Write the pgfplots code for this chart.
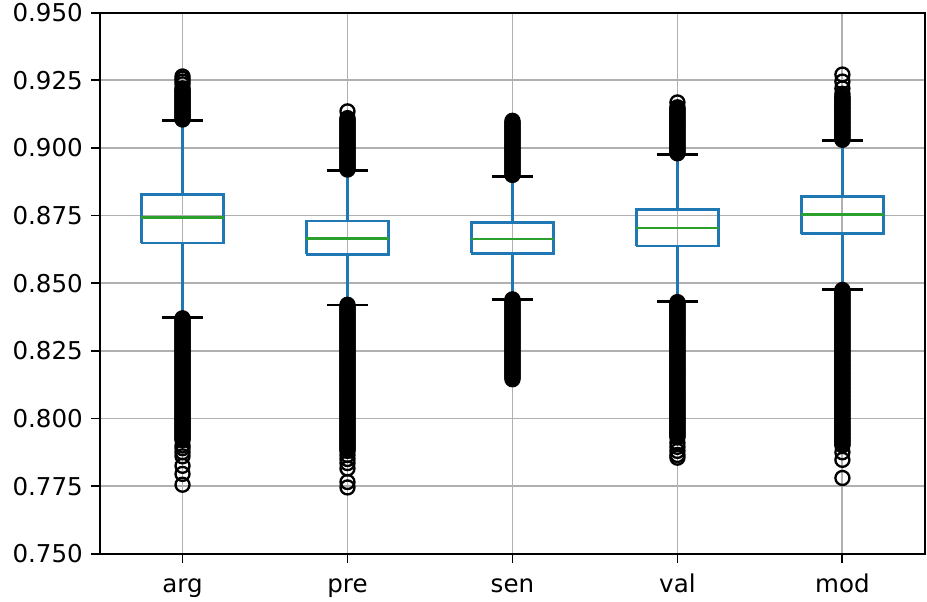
\documentclass[border=0pt]{standalone}
\usepackage{pgfplots}
\pgfplotsset{compat=1.18}
\usepackage{fontspec}
\setmainfont{DejaVu Sans}
\definecolor{mblue}{HTML}{1F77B4}
\definecolor{mgreen}{HTML}{2CA02C}
\definecolor{gridc}{HTML}{B0B0B0}
\begin{document}
\begin{tikzpicture}
\begin{axis}[
  scale only axis, width=352.9pt, height=231.5pt,
  xmin=0.5, xmax=5.5, ymin=0.75, ymax=0.95,
  xtick={1,2,3,4,5}, xticklabels={arg,pre,sen,val,mod},
  ytick={0.75,0.775,0.8,0.825,0.85,0.875,0.9,0.925,0.95},
  yticklabel style={/pgf/number format/.cd,fixed,fixed zerofill,precision=3},
  xticklabel style={text height=7.8pt, text depth=2.2pt, yshift=-1.2pt},
  /pgf/number format/assume math mode=true,
  ticklabel style={font=\fontsize{10.5}{12.6}\selectfont},
  tick align=outside, major tick length=3.85pt,
  tick style={black, line width=0.8pt},
  axis line style={line width=0.8pt},
  xtick pos=bottom, ytick pos=left,
  grid=major, grid style={line width=0.8pt, gridc},
  fliers/.style={only marks, mark=o, mark size=3pt, mark options={draw=black, line width=1pt}},
  wh/.style={mblue, line width=1.15pt, forget plot},
  cap/.style={black, line width=1.15pt, forget plot},
  bx/.style={mblue, line width=1.15pt, forget plot},
  md/.style={mgreen, line width=1.15pt, forget plot},
]
% arg
\addplot[wh] coordinates {(1,0.8828) (1,0.9101)};
\addplot[wh] coordinates {(1,0.8648) (1,0.8372)};
\addplot[cap] coordinates {(0.875,0.9101) (1.125,0.9101)};
\addplot[cap] coordinates {(0.875,0.8372) (1.125,0.8372)};
\addplot[bx] coordinates {(0.75,0.8648) (1.25,0.8648) (1.25,0.8828) (0.75,0.8828) (0.75,0.8648)};
\addplot[md] coordinates {(0.75,0.8742) (1.25,0.8742)};
% pre
\addplot[wh] coordinates {(2,0.8730) (2,0.8916)};
\addplot[wh] coordinates {(2,0.8606) (2,0.8419)};
\addplot[cap] coordinates {(1.875,0.8916) (2.125,0.8916)};
\addplot[cap] coordinates {(1.875,0.8419) (2.125,0.8419)};
\addplot[bx] coordinates {(1.75,0.8606) (2.25,0.8606) (2.25,0.8730) (1.75,0.8730) (1.75,0.8606)};
\addplot[md] coordinates {(1.75,0.8665) (2.25,0.8665)};
% sen
\addplot[wh] coordinates {(3,0.8723) (3,0.8895)};
\addplot[wh] coordinates {(3,0.8610) (3,0.8440)};
\addplot[cap] coordinates {(2.875,0.8895) (3.125,0.8895)};
\addplot[cap] coordinates {(2.875,0.8440) (3.125,0.8440)};
\addplot[bx] coordinates {(2.75,0.8610) (3.25,0.8610) (3.25,0.8723) (2.75,0.8723) (2.75,0.8610)};
\addplot[md] coordinates {(2.75,0.8663) (3.25,0.8663)};
% val
\addplot[wh] coordinates {(4,0.8773) (4,0.8976)};
\addplot[wh] coordinates {(4,0.8637) (4,0.8431)};
\addplot[cap] coordinates {(3.875,0.8976) (4.125,0.8976)};
\addplot[cap] coordinates {(3.875,0.8431) (4.125,0.8431)};
\addplot[bx] coordinates {(3.75,0.8637) (4.25,0.8637) (4.25,0.8773) (3.75,0.8773) (3.75,0.8637)};
\addplot[md] coordinates {(3.75,0.8704) (4.25,0.8704)};
% mod
\addplot[wh] coordinates {(5,0.8821) (5,0.9028)};
\addplot[wh] coordinates {(5,0.8683) (5,0.8477)};
\addplot[cap] coordinates {(4.875,0.9028) (5.125,0.9028)};
\addplot[cap] coordinates {(4.875,0.8477) (5.125,0.8477)};
\addplot[bx] coordinates {(4.75,0.8683) (5.25,0.8683) (5.25,0.8821) (4.75,0.8821) (4.75,0.8683)};
\addplot[md] coordinates {(4.75,0.8753) (5.25,0.8753)};
% fliers arg
\addplot[fliers] table[x expr=1, y index=0, header=false, row sep=\\] {
0.9105\\0.911\\0.9115\\0.912\\0.9125\\0.913\\0.9135\\0.914\\0.9145\\0.915\\0.9155\\0.916\\0.9165\\0.917\\0.9175\\0.918\\0.9185\\0.919\\0.9195\\0.92\\0.9205\\0.921\\0.9215\\0.922\\0.9235\\0.9245\\0.9255\\0.9264\\
0.837\\0.8365\\0.836\\0.8355\\0.835\\0.8345\\0.834\\0.8335\\0.833\\0.8325\\0.832\\0.8315\\0.831\\0.8305\\0.83\\0.8295\\0.829\\0.8285\\0.828\\0.8275\\0.827\\0.8265\\0.826\\0.8255\\0.825\\0.8245\\0.824\\0.8235\\0.823\\0.8225\\0.822\\0.8215\\0.821\\0.8205\\0.82\\
0.8195\\0.819\\0.8185\\0.818\\0.8175\\0.817\\0.8165\\0.816\\0.8155\\0.815\\0.8145\\0.814\\0.8135\\0.813\\0.8125\\0.812\\0.8115\\0.811\\0.8105\\0.81\\0.8095\\0.809\\0.8085\\0.808\\0.8075\\0.807\\0.8065\\0.806\\0.8055\\0.805\\0.8045\\0.804\\0.8035\\0.803\\0.8025\\0.802\\0.8015\\0.801\\0.8005\\0.8\\
0.7995\\0.799\\0.7985\\0.798\\0.7975\\0.797\\0.7965\\0.796\\0.7955\\0.795\\0.7945\\0.794\\0.7935\\0.793\\0.7925\\0.792\\0.79\\0.789\\0.7875\\0.786\\0.7825\\0.7795\\0.7755\\
};
% fliers pre
\addplot[fliers] table[x expr=2, y index=0, header=false, row sep=\\] {
0.892\\0.8925\\0.893\\0.8935\\0.894\\0.8945\\0.895\\0.8955\\0.896\\0.8965\\0.897\\0.8975\\0.898\\0.8985\\0.899\\0.8995\\0.9\\0.9005\\0.901\\0.9015\\0.902\\0.9025\\0.903\\0.9035\\0.904\\0.9045\\0.905\\0.9055\\0.906\\0.9065\\0.907\\0.9075\\0.908\\0.9085\\0.909\\0.9095\\0.91\\0.9105\\0.911\\0.9135\\
0.842\\0.8415\\0.841\\0.8405\\0.84\\0.8395\\0.839\\0.8385\\0.838\\0.8375\\
0.837\\0.8365\\0.836\\0.8355\\0.835\\0.8345\\0.834\\0.8335\\0.833\\0.8325\\0.832\\0.8315\\0.831\\0.8305\\0.83\\0.8295\\0.829\\0.8285\\0.828\\0.8275\\0.827\\0.8265\\0.826\\0.8255\\0.825\\0.8245\\0.824\\0.8235\\0.823\\0.8225\\0.822\\0.8215\\0.821\\0.8205\\0.82\\
0.8195\\0.819\\0.8185\\0.818\\0.8175\\0.817\\0.8165\\0.816\\0.8155\\0.815\\0.8145\\0.814\\0.8135\\0.813\\0.8125\\0.812\\0.8115\\0.811\\0.8105\\0.81\\0.8095\\0.809\\0.8085\\0.808\\0.8075\\0.807\\0.8065\\0.806\\0.8055\\0.805\\0.8045\\0.804\\0.8035\\0.803\\0.8025\\0.802\\0.8015\\0.801\\0.8005\\0.8\\
0.7995\\0.799\\0.7985\\0.798\\0.7975\\0.797\\0.7965\\0.796\\0.7955\\0.795\\0.7945\\0.794\\0.7935\\0.793\\0.7925\\0.792\\0.7915\\0.791\\0.7905\\0.79\\0.7895\\0.789\\0.7885\\0.788\\0.7865\\0.785\\0.7835\\0.7815\\0.7765\\0.7745\\
};
% fliers sen
\addplot[fliers] table[x expr=3, y index=0, header=false, row sep=\\] {
0.89\\0.8905\\0.891\\0.8915\\0.892\\0.8925\\0.893\\0.8935\\0.894\\0.8945\\0.895\\0.8955\\0.896\\0.8965\\0.897\\0.8975\\0.898\\0.8985\\0.899\\0.8995\\0.9\\0.9005\\0.901\\0.9015\\0.902\\0.9025\\0.903\\0.9035\\0.904\\0.9045\\0.905\\0.9055\\0.906\\0.9065\\0.907\\0.9075\\0.908\\0.9085\\0.909\\0.9095\\0.91\\
0.844\\0.8435\\0.843\\0.8425\\0.842\\0.8415\\0.841\\0.8405\\0.84\\0.8395\\0.839\\0.8385\\0.838\\0.8375\\
0.837\\0.8365\\0.836\\0.8355\\0.835\\0.8345\\0.834\\0.8335\\0.833\\0.8325\\0.832\\0.8315\\0.831\\0.8305\\0.83\\0.8295\\0.829\\0.8285\\0.828\\0.8275\\0.827\\0.8265\\0.826\\0.8255\\0.825\\0.8245\\0.824\\0.8235\\0.823\\0.8225\\0.822\\0.8215\\0.821\\0.8205\\0.82\\
0.8195\\0.819\\0.8185\\0.818\\0.8175\\0.817\\0.8165\\0.816\\0.8155\\0.815\\0.8145\\
};
% fliers val
\addplot[fliers] table[x expr=4, y index=0, header=false, row sep=\\] {
0.898\\0.8985\\0.899\\0.8995\\0.9\\0.9005\\0.901\\0.9015\\0.902\\0.9025\\0.903\\0.9035\\0.904\\0.9045\\0.905\\0.9055\\0.906\\0.9065\\0.907\\0.9075\\0.908\\0.9085\\0.909\\0.9095\\0.91\\0.9105\\0.911\\0.9115\\0.912\\0.9125\\0.913\\0.9135\\0.914\\0.9145\\0.915\\0.9168\\
0.843\\0.8425\\0.842\\0.8415\\0.841\\0.8405\\0.84\\0.8395\\0.839\\0.8385\\0.838\\0.8375\\
0.837\\0.8365\\0.836\\0.8355\\0.835\\0.8345\\0.834\\0.8335\\0.833\\0.8325\\0.832\\0.8315\\0.831\\0.8305\\0.83\\0.8295\\0.829\\0.8285\\0.828\\0.8275\\0.827\\0.8265\\0.826\\0.8255\\0.825\\0.8245\\0.824\\0.8235\\0.823\\0.8225\\0.822\\0.8215\\0.821\\0.8205\\0.82\\
0.8195\\0.819\\0.8185\\0.818\\0.8175\\0.817\\0.8165\\0.816\\0.8155\\0.815\\0.8145\\0.814\\0.8135\\0.813\\0.8125\\0.812\\0.8115\\0.811\\0.8105\\0.81\\0.8095\\0.809\\0.8085\\0.808\\0.8075\\0.807\\0.8065\\0.806\\0.8055\\0.805\\0.8045\\0.804\\0.8035\\0.803\\0.8025\\0.802\\0.8015\\0.801\\0.8005\\0.8\\
0.7995\\0.799\\0.7985\\0.798\\0.7975\\0.797\\0.7965\\0.796\\0.7955\\0.795\\0.7945\\0.794\\0.7935\\0.793\\0.791\\0.7895\\0.788\\0.7865\\0.7855\\
};
% fliers mod
\addplot[fliers] table[x expr=5, y index=0, header=false, row sep=\\] {
0.903\\0.9035\\0.904\\0.9045\\0.905\\0.9055\\0.906\\0.9065\\0.907\\0.9075\\0.908\\0.9085\\0.909\\0.9095\\0.91\\0.9105\\0.911\\0.9115\\0.912\\0.9125\\0.913\\0.9135\\0.914\\0.9145\\0.915\\0.9155\\0.916\\0.9165\\0.917\\0.9175\\0.918\\0.9185\\0.919\\0.92\\0.922\\0.9245\\0.9271\\
0.8475\\0.847\\0.8465\\0.846\\0.8455\\0.845\\0.8445\\0.844\\0.8435\\0.843\\0.8425\\0.842\\0.8415\\0.841\\0.8405\\0.84\\0.8395\\0.839\\0.8385\\0.838\\0.8375\\
0.837\\0.8365\\0.836\\0.8355\\0.835\\0.8345\\0.834\\0.8335\\0.833\\0.8325\\0.832\\0.8315\\0.831\\0.8305\\0.83\\0.8295\\0.829\\0.8285\\0.828\\0.8275\\0.827\\0.8265\\0.826\\0.8255\\0.825\\0.8245\\0.824\\0.8235\\0.823\\0.8225\\0.822\\0.8215\\0.821\\0.8205\\0.82\\
0.8195\\0.819\\0.8185\\0.818\\0.8175\\0.817\\0.8165\\0.816\\0.8155\\0.815\\0.8145\\0.814\\0.8135\\0.813\\0.8125\\0.812\\0.8115\\0.811\\0.8105\\0.81\\0.8095\\0.809\\0.8085\\0.808\\0.8075\\0.807\\0.8065\\0.806\\0.8055\\0.805\\0.8045\\0.804\\0.8035\\0.803\\0.8025\\0.802\\0.8015\\0.801\\0.8005\\0.8\\
0.7995\\0.799\\0.7985\\0.798\\0.7975\\0.797\\0.7965\\0.796\\0.7955\\0.795\\0.7945\\0.794\\0.7935\\0.793\\0.7925\\0.792\\0.7915\\0.791\\0.7905\\0.79\\0.7875\\0.7847\\0.778\\
};
\end{axis}
\pgfresetboundingbox
\path ([xshift=-42.8pt,yshift=-20.5pt]current axis.south west) rectangle ([xshift=0.9pt,yshift=5.4pt]current axis.north east);
\end{tikzpicture}
\end{document}
